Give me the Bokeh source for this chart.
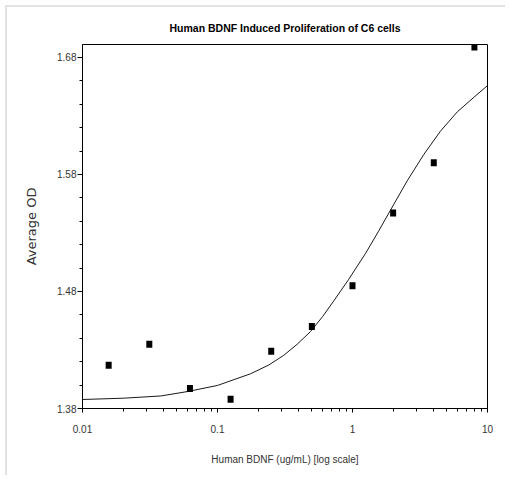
from bokeh.plotting import figure
from bokeh.models import FixedTicker
from bokeh.embed import file_html
from bokeh.resources import INLINE

# measured data (concentration in ug/mL, average OD)
conc = [0.015625, 0.03125, 0.0625, 0.125, 0.25, 0.5, 1.0, 2.0, 4.0, 8.0]
avg_od = [1.417, 1.435, 1.397, 1.388, 1.429, 1.450, 1.485, 1.547, 1.590, 1.689]

# fitted curve
curve_x = [0.01, 0.02, 0.038, 0.06, 0.1, 0.176, 0.24, 0.31, 0.39, 0.489, 0.6,
           0.727, 0.939, 1.248, 1.55, 1.858, 2.54, 3.37, 4.48, 5.97, 7.93, 10.0]
curve_y = [1.3877, 1.3888, 1.3907, 1.3945, 1.3997, 1.4097, 1.4172, 1.4255, 1.4350,
           1.4458, 1.4585, 1.4720, 1.4905, 1.5125, 1.5310, 1.5470, 1.5745, 1.5970,
           1.6170, 1.6335, 1.6460, 1.6560]

x_ticks = [0.01, 0.1, 1, 10]
x_tick_labels = ["0.01", "0.1", "1", "10"]
y_ticks = [1.38, 1.48, 1.58, 1.68]
y_minor = [1.40, 1.42, 1.44, 1.46, 1.50, 1.52, 1.54, 1.56, 1.60, 1.62, 1.64, 1.66]
x_minor = [m * d for d in [0.01, 0.1, 1] for m in range(2, 10)]

SANS = "Liberation Sans"

p = figure(width=500, height=470, x_axis_type="log",
           x_range=(0.01, 10), y_range=(1.38, 1.6911),
           output_backend="svg", toolbar_location=None,
           min_border_left=75, min_border_right=20,
           min_border_top=37, min_border_bottom=69,
           title="Human BDNF Induced Proliferation of C6 cells")

p.title.align = "center"
p.title.text_font = SANS
p.title.text_font_size = "10.5px"
p.title.text_font_style = "bold"
p.title.text_color = "black"
p.title.standoff = 21

p.background_fill_color = "white"
p.border_fill_color = "white"
p.outline_line_color = "black"
p.outline_line_width = 1
p.xgrid.visible = False
p.ygrid.visible = False

# x axis
xa = p.xaxis[0]
xa.ticker = FixedTicker(ticks=x_ticks, minor_ticks=x_minor)
xa.major_label_overrides = {t: l for t, l in zip(x_ticks, x_tick_labels)}
xa.axis_label = "Human BDNF (ug/mL) [log scale]"
xa.axis_label_text_font = SANS
xa.axis_label_text_font_size = "10px"
xa.axis_label_text_font_style = "normal"
xa.axis_label_text_color = "#333333"
xa.axis_label_standoff = 18
xa.major_label_text_font = SANS
xa.major_label_text_font_size = "10px"
xa.major_label_text_color = "#333333"
xa.major_label_standoff = 12
xa.major_tick_out = 4
xa.major_tick_in = 0
xa.minor_tick_out = 3
xa.minor_tick_in = 0
xa.axis_line_color = "black"
xa.major_tick_line_color = "black"
xa.minor_tick_line_color = "black"

# y axis
ya = p.yaxis[0]
ya.ticker = FixedTicker(ticks=y_ticks, minor_ticks=y_minor)
ya.axis_label = "Average OD"
ya.axis_label_text_font = "DejaVu Sans"
ya.axis_label_text_font_size = "13px"
ya.axis_label_text_font_style = "normal"
ya.axis_label_text_color = "#333333"
ya.axis_label_standoff = 15
ya.major_label_text_font = SANS
ya.major_label_text_font_size = "10px"
ya.major_label_text_color = "#333333"
ya.major_label_standoff = 1
ya.major_tick_out = 5
ya.major_tick_in = 0
ya.minor_tick_out = 3
ya.minor_tick_in = 0
ya.axis_line_color = "black"
ya.major_tick_line_color = "black"
ya.minor_tick_line_color = "black"

p.line(curve_x, curve_y, line_color="#1a1a1a", line_width=1)
p.rect(conc, avg_od, width=6, height=7, width_units="screen", height_units="screen",
       fill_color="black", line_color=None)

p.styles = {"margin-left": "5px", "margin-top": "5px",
            "border-top": "2px solid #e2e2e2", "border-left": "2px solid #e2e2e2"}

open("out.html", "w").write(file_html(p, INLINE))
